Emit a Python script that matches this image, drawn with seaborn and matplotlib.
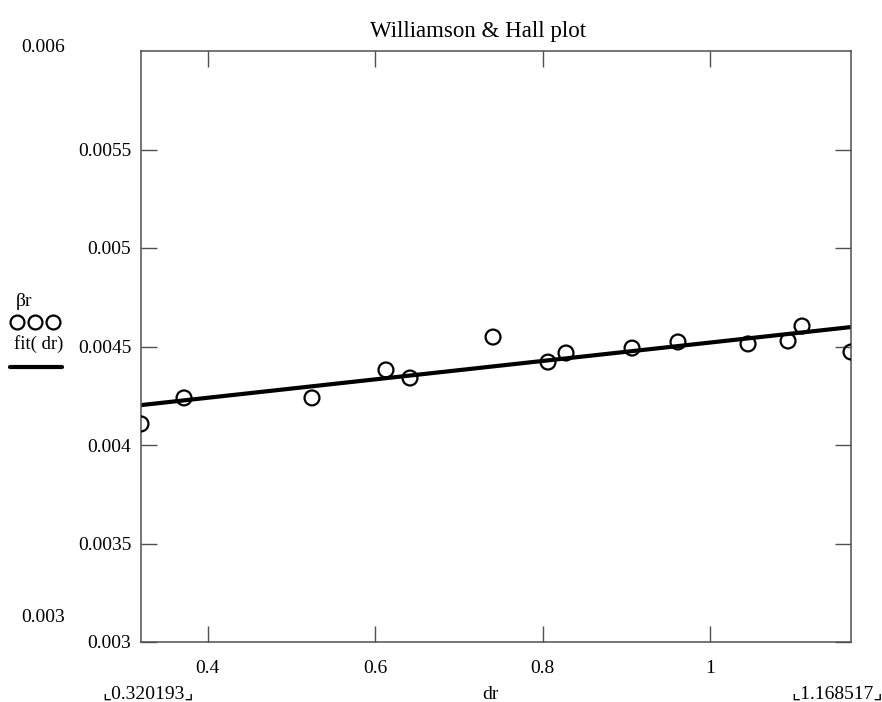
import numpy as np
import pandas as pd
import matplotlib
matplotlib.use("Agg")
import matplotlib.pyplot as plt
from matplotlib.lines import Line2D
import seaborn as sns

# Williamson & Hall data: dr vs. integral breadth beta_r
dr = [0.320193, 0.3716, 0.5245, 0.6129, 0.6416, 0.7408, 0.8065,
      0.8280, 0.9069, 0.9618, 1.0455, 1.0933, 1.1100, 1.168517]
beta_r = [0.004107, 0.004239, 0.004239, 0.004381, 0.004340, 0.004548,
          0.004421, 0.004467, 0.004492, 0.004523, 0.004513, 0.004528,
          0.004604, 0.004472]

# linear fit: fit(dr) = intercept + slope * dr
fit_intercept = 0.004053
fit_slope = 0.000467

x_limits = (0.320193, 1.168517)
y_limits = (0.003, 0.006)
x_ticks = [0.4, 0.6, 0.8, 1.0]
x_tick_labels = ["0.4", "0.6", "0.8", "1"]
y_ticks = [0.003, 0.0035, 0.004, 0.0045, 0.005, 0.0055]
y_tick_labels = ["0.003", "0.0035", "0.004", "0.0045", "0.005", "0.0055"]

df = pd.DataFrame({"dr": dr, "beta_r": beta_r})
df["fit"] = fit_intercept + fit_slope * df["dr"]

sns.set_style("white")
plt.rcParams["font.family"] = ["Liberation Serif", "DejaVu Sans"]
plt.rcParams["text.color"] = "black"

W, H = 882, 702
fig = plt.figure(figsize=(W / 100, H / 100), dpi=100)
ax = fig.add_axes([141 / W, 1 - 642 / H, 710 / W, 591 / H])

sns.lineplot(data=df, x="dr", y="fit", ax=ax, color="black",
             linewidth=3.0, solid_capstyle="butt")
sns.scatterplot(data=df, x="dr", y="beta_r", ax=ax, marker="o", s=115,
                facecolor="none", edgecolor="black", linewidth=1.6,
                zorder=3)

ax.set_xlim(*x_limits)
ax.set_ylim(*y_limits)
ax.set_xticks(x_ticks)
ax.set_xticklabels(x_tick_labels)
ax.set_yticks(y_ticks)
ax.set_yticklabels(y_tick_labels)
ax.set_xlabel("")
ax.set_ylabel("")

spine_color = "#505050"
for sp in ax.spines.values():
    sp.set_color(spine_color)
    sp.set_linewidth(1.1)
ax.tick_params(direction="in", length=11.5, width=1.0, color=spine_color,
               bottom=True, left=True, top=True, right=True,
               labelsize=14, labelcolor="black")
ax.tick_params(axis="x", pad=13)
ax.tick_params(axis="y", pad=7)

# title
fig.text(478 / W, 1 - 37 / H, "Williamson & Hall plot", ha="center",
         va="baseline", fontsize=16.5)

# axis limit labels
fig.text(43 / W, 1 - 47 / H, "0.006", ha="center", va="center", fontsize=14)
fig.text(43 / W, 1 - 617 / H, "0.003", ha="center", va="center", fontsize=14)
fig.text(148 / W, 1 - 699 / H, "\u231e0.320193\u231f", ha="center",
         va="baseline", fontsize=14)
fig.text(490 / W, 1 - 699 / H, "dr", ha="center", va="baseline", fontsize=14)
fig.text(837 / W, 1 - 699 / H, "\u231e1.168517\u231f", ha="center",
         va="baseline", fontsize=14)

# legend stacked to the left of the plot
fig.text(24 / W, 1 - 306 / H, "\u03b2r", ha="center", va="baseline",
         fontsize=14)
for cx in (17, 35, 53):
    fig.add_artist(Line2D([cx / W], [1 - 322 / H], marker="o",
                          markersize=10, markerfacecolor="none",
                          markeredgecolor="black", markeredgewidth=1.6,
                          linestyle="none"))
fig.text(39 / W, 1 - 349 / H, "fit( dr)", ha="center", va="baseline",
         fontsize=13.5)
fig.add_artist(Line2D([10 / W, 62 / W], [1 - 367 / H, 1 - 367 / H],
                      color="black", linewidth=3.0, solid_capstyle="round"))

fig.savefig("out.png", dpi=100)
